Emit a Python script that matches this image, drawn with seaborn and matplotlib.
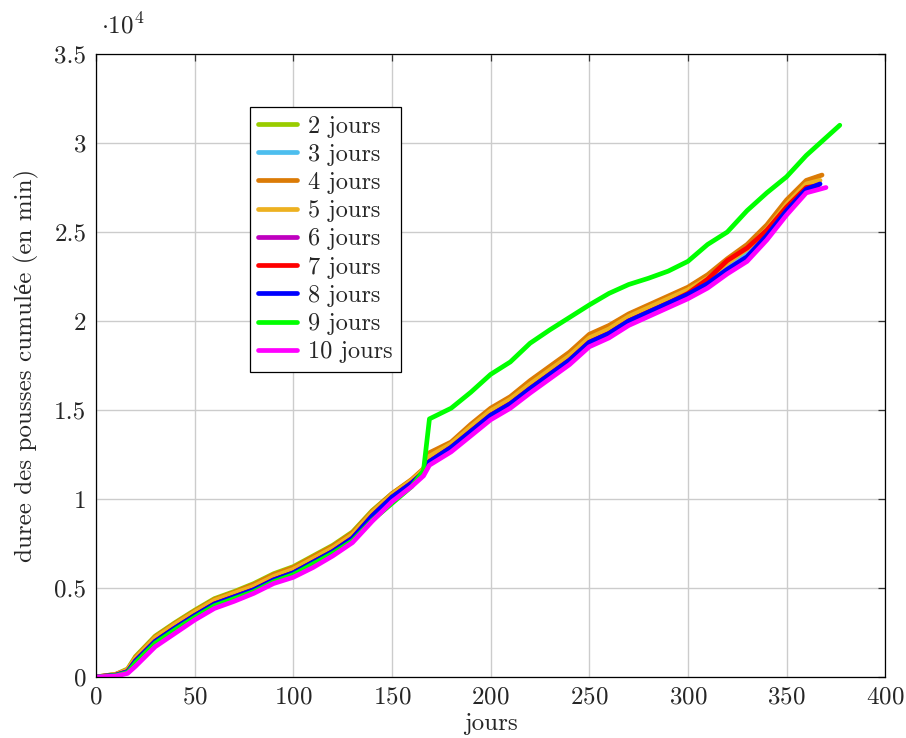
import pandas as pd
import seaborn as sns
import matplotlib.pyplot as plt
from matplotlib.ticker import FuncFormatter, MultipleLocator

# days shared by every series (the last point of each series is its own end day)
days = [0, 10, 16, 20, 30, 40, 50, 60, 70, 80, 90, 100, 110, 120, 130, 140, 150,
        160, 166, 169, 180, 190, 200, 210, 220, 230, 240, 250, 260, 270, 280, 290,
        300, 310, 320, 330, 340, 350, 360]

labels = ['2 jours', '3 jours', '4 jours', '5 jours', '6 jours',
          '7 jours', '8 jours', '9 jours', '10 jours']
end_days = [366, 365, 368, 367, 366, 366, 367, 377, 370]

# cumulated duration (minutes)
j2 = [0, 150, 450, 1150, 2300, 3050, 3750, 4400, 4800, 5250, 5800, 6200, 6800, 7400, 8150,
      9350, 10300, 11050, 11650, 12400, 13100, 14050, 15000, 15700, 16600, 17400, 18200,
      19200, 19700, 20350, 20850, 21350, 21850, 22550, 23400, 24200, 25300, 26700, 27800, 28100]
j3 = [0, 120, 380, 1000, 2150, 2900, 3600, 4250, 4650, 5050, 5600, 6000, 6600, 7200, 7950,
      9200, 10200, 11000, 11600, 12300, 13000, 13950, 14850, 15500, 16350, 17150, 17950,
      18950, 19450, 20150, 20650, 21150, 21650, 22300, 23100, 23850, 25000, 26400, 27500, 27600]
j4 = [0, 150, 400, 1100, 2250, 3000, 3700, 4350, 4750, 5200, 5750, 6150, 6750, 7350, 8100,
      9300, 10300, 11100, 11700, 12600, 13200, 14200, 15100, 15750, 16650, 17450, 18250,
      19250, 19750, 20400, 20900, 21400, 21900, 22600, 23500, 24300, 25400, 26800, 27900, 28200]
j5 = [0, 130, 400, 1050, 2200, 2950, 3650, 4300, 4700, 5100, 5650, 6050, 6650, 7250, 8000,
      9250, 10250, 11050, 11650, 12400, 13100, 14050, 14950, 15600, 16450, 17250, 18050,
      19050, 19550, 20250, 20750, 21250, 21750, 22400, 23250, 24050, 25150, 26550, 27700, 27900]
j6 = [0, 100, 300, 900, 2000, 2750, 3450, 4100, 4500, 4900, 5450, 5850, 6450, 7050, 7800,
      9050, 10100, 10900, 11500, 12100, 12900, 13800, 14700, 15350, 16200, 17000, 17800,
      18800, 19300, 20000, 20500, 21000, 21500, 22100, 22900, 23600, 24800, 26200, 27400, 27500]
j7 = [0, 100, 300, 900, 2000, 2750, 3450, 4100, 4500, 4900, 5450, 5850, 6450, 7050, 7800,
      9050, 10100, 10900, 11500, 12100, 12900, 13800, 14700, 15350, 16200, 17000, 17800,
      18800, 19300, 20000, 20500, 21000, 21550, 22350, 23400, 24100, 25100, 26400, 27500, 27600]
j8 = [0, 100, 300, 900, 2000, 2750, 3450, 4100, 4500, 4900, 5450, 5850, 6450, 7050, 7800,
      9050, 10100, 10900, 11500, 12100, 12900, 13800, 14700, 15350, 16200, 17000, 17800,
      18800, 19300, 20000, 20500, 21000, 21500, 22100, 22900, 23600, 24800, 26200, 27400, 27700]
j9 = [0, 80, 250, 800, 1900, 2650, 3350, 4000, 4400, 4800, 5350, 5750, 6350, 6950, 7650,
      8800, 9750, 10700, 11600, 14500, 15100, 16000, 17000, 17700, 18750, 19500, 20200,
      20900, 21550, 22050, 22400, 22800, 23350, 24300, 25000, 26200, 27200, 28100, 29300, 31000]
j10 = [0, 50, 200, 600, 1700, 2450, 3200, 3850, 4250, 4700, 5250, 5600, 6150, 6800, 7550,
       8750, 9850, 10700, 11300, 11900, 12650, 13550, 14450, 15100, 15950, 16750, 17550,
       18550, 19050, 19750, 20250, 20750, 21250, 21850, 22650, 23350, 24550, 25950, 27200, 27500]

colors = ['#99cc00', '#4dbeee', '#db7b06', '#edb120', '#bf00bf',
          '#ff0000', '#0000ff', '#00ff00', '#ff00ff']

series = [j2, j3, j4, j5, j6, j7, j8, j9, j10]
rows = []
for lab, vals, end in zip(labels, series, end_days):
    for d, v in zip(days + [end], vals):
        rows.append({'jours': d, 'duree': v, 'serie': lab})
df = pd.DataFrame(rows)

sns.set_style("whitegrid")
plt.rcParams['font.family'] = ['cmr10', 'Liberation Serif']
plt.rcParams['mathtext.fontset'] = 'cm'
plt.rcParams['axes.formatter.use_mathtext'] = True

fig = plt.figure(figsize=(9.06, 7.38), dpi=100)
ax = fig.add_axes([0.106, 0.0827, 0.871, 0.8441])

sns.lineplot(data=df, x='jours', y='duree', hue='serie', hue_order=labels,
             palette=dict(zip(labels, colors)), linewidth=3.4, sort=False, ax=ax)

ax.set_xlim(0, 400)
ax.set_ylim(0, 35000)
ax.xaxis.set_major_locator(MultipleLocator(50))
ax.yaxis.set_major_locator(MultipleLocator(5000))
ax.yaxis.set_major_formatter(FuncFormatter(lambda v, p: f'{v / 1e4:g}'))
ax.grid(True, color='#cccccc', linewidth=1.0)
for s in ax.spines.values():
    s.set_color('black')
    s.set_linewidth(0.9)
ax.tick_params(direction='in', length=5, width=0.9, top=True, right=True,
               labelsize=18, color='#333333', pad=7)
ax.set_xlabel('jours', fontsize=18, labelpad=3)
ax.set_ylabel('duree des pousses cumulée (en min)', fontsize=18, labelpad=11)
ax.text(0.006, 1.025, r'$\cdot 10^4$', transform=ax.transAxes, fontsize=18,
        va='bottom', ha='left')

leg = ax.legend(loc='upper left', bbox_to_anchor=(0.195, 0.915), fontsize=17.5,
                frameon=True, fancybox=False, handlelength=1.6, labelspacing=0.25,
                borderpad=0.35, handletextpad=0.45, borderaxespad=0)
leg.get_frame().set_edgecolor('black')
leg.get_frame().set_linewidth(0.9)
leg.get_frame().set_alpha(1)

plt.savefig('out.png', dpi=100)
